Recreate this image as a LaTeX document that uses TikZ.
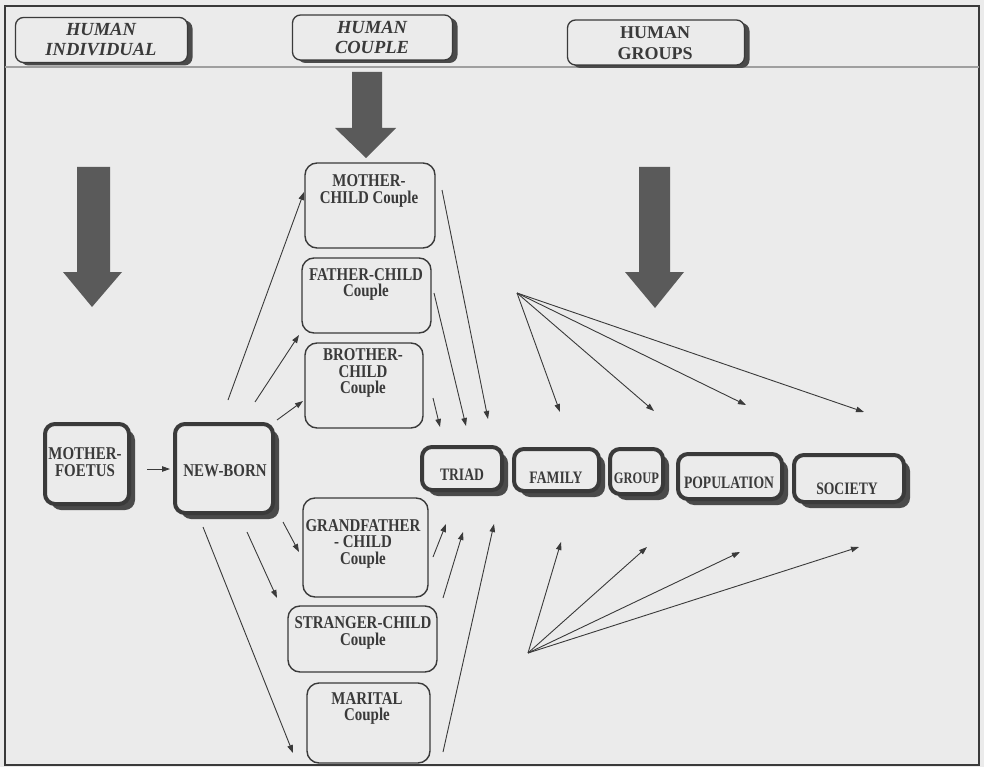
\documentclass[tikz,border=0pt]{standalone}
\usepackage{fontspec}
\setmainfont{Liberation Serif}
\newfontfamily\condA[FakeStretch=0.83]{Liberation Serif}
\newfontfamily\condB[FakeStretch=0.78]{Liberation Serif}
\usetikzlibrary{arrows.meta,shadows}
\definecolor{paper}{HTML}{EBEBEB}
\definecolor{ink}{HTML}{3A3A3A}
\definecolor{shade}{HTML}{4A4A4A}
\definecolor{bigarr}{HTML}{5A5A5A}
\begin{document}
\begin{tikzpicture}[x=1pt,y=-1pt,
  thickbox/.style={draw=ink, line width=4pt, fill=paper, rounded corners=10pt, inner sep=0pt,
    drop shadow={shadow xshift=6pt, shadow yshift=-6pt, fill=shade, opacity=1}},
  headbox/.style={draw=ink, line width=1.3pt, fill=paper, rounded corners=8pt, inner sep=0pt,
    drop shadow={shadow xshift=5pt, shadow yshift=-3pt, fill=shade, opacity=1}},
  cbox/.style={draw=ink, line width=1.4pt, rounded corners=12pt, inner sep=0pt},
  btxt/.style={text=ink, font=\condA\fontsize{18}{16.5}\selectfont\bfseries, align=center, inner sep=0pt},
  gtxt/.style={text=ink, font=\condB\fontsize{17.5}{16}\selectfont\bfseries, align=center, inner sep=0pt},
  htxt/.style={text=ink, font=\fontsize{18.5}{20}\selectfont\bfseries\itshape, align=center, inner sep=0pt},
  conn/.style={draw=ink, line width=0.9pt, -{Triangle[length=8pt,width=5.5pt]}},
  bigarrow/.style={fill=bigarr, draw=none}
]
\fill[paper] (0,0) rectangle (984,767);
\useasboundingbox (0,0) rectangle (984,767);
\draw[ink, line width=2pt] (5,6) rectangle (979,765);
\draw[gray!75, line width=1.5pt] (5,67) -- (979,67);

% header boxes
\node[headbox, minimum width=172pt, minimum height=45pt] (hi) at (101.5,40) {};
\node[htxt] (hit) at (101,40) {HUMAN\\INDIVIDUAL};
\node[headbox, minimum width=160pt, minimum height=45pt] (hc) at (372.5,37.5) {};
\node[htxt] (hct) at (372,37) {HUMAN\\COUPLE};
\node[headbox, minimum width=177pt, minimum height=45pt] (hg) at (656,42.5) {};
\node[text=ink, font=\fontsize{18}{21}\selectfont\bfseries, align=center, inner sep=0pt] (hgt) at (655,43) {HUMAN\\GROUPS};

% big arrows
\fill[bigarrow] (77,167) -- (110,167) -- (110,272) -- (122,272) -- (92,307) -- (63,272) -- (77,272) -- cycle;
\fill[bigarrow] (352,72) -- (382,72) -- (382,128) -- (396,128) -- (366,158) -- (335,128) -- (352,128) -- cycle;
\fill[bigarrow] (639,167) -- (670,167) -- (670,272) -- (684,272) -- (655,308) -- (625,272) -- (639,272) -- cycle;

% individual boxes
\node[thickbox, minimum width=84pt, minimum height=80pt] (mf) at (87,464) {};
\node[btxt] (mft) at (85,462) {MOTHER-\\FOETUS};
\node[thickbox, minimum width=98pt, minimum height=89pt] (nb) at (224,468.5) {};
\node[btxt] (nbt) at (225,471) {NEW-BORN};

% couple boxes
\node[cbox, minimum width=130pt, minimum height=85pt] (mc) at (370,205.5) {};
\node[btxt] (mct) at (369,191) {MOTHER-\\CHILD Couple};
\node[cbox, minimum width=129pt, minimum height=75pt] (fc) at (366.5,295.5) {};
\node[btxt] (fct) at (366,284.5) {FATHER-CHILD\\Couple};
\node[cbox, minimum width=118pt, minimum height=85pt] (bc) at (364,385.5) {};
\node[btxt] (bct) at (363,373) {BROTHER-\\CHILD\\Couple};
\node[cbox, minimum width=125pt, minimum height=99pt] (gc) at (365.5,547.5) {};
\node[btxt] (gct) at (363,543.5) {GRANDFATHER\\- CHILD\\Couple};
\node[cbox, minimum width=149pt, minimum height=66pt] (sc) at (362.5,639) {};
\node[btxt] (sct) at (363,633) {STRANGER-CHILD\\Couple};
\node[cbox, minimum width=123pt, minimum height=80pt] (mac) at (368.5,723) {};
\node[btxt] (mact) at (367,708.5) {MARITAL\\Couple};

% group boxes
\node[thickbox, minimum width=80pt, minimum height=43pt] (tr) at (462,468.5) {};
\node[gtxt] (trt) at (462,475) {TRIAD};
\node[thickbox, minimum width=85pt, minimum height=42pt] (fa) at (556.5,470) {};
\node[gtxt] (fat) at (556,478) {FAMILY};
\node[thickbox, minimum width=53pt, minimum height=45pt] (gr) at (636.5,471.5) {};
\node[gtxt, font=\condB\fontsize{16}{16}\selectfont\bfseries] (grt) at (636.5,478) {GROUP};
\node[thickbox, minimum width=104pt, minimum height=45pt] (po) at (730,476.5) {};
\node[gtxt] (pot) at (729,483) {POPULATION};
\node[thickbox, minimum width=110pt, minimum height=47pt] (so) at (849,478.5) {};
\node[gtxt] (sot) at (847,489) {SOCIETY};

% connector endpoints
\coordinate (mfo) at (147,469); \coordinate (nbi) at (170,469);
\coordinate (n1s) at (228,400); \coordinate (n1e) at (304,192);
\coordinate (n2s) at (255,402); \coordinate (n2e) at (299,335);
\coordinate (n3s) at (277,420); \coordinate (n3e) at (303,401);
\coordinate (n4s) at (283,522); \coordinate (n4e) at (299,552);
\coordinate (n5s) at (247,532); \coordinate (n5e) at (277,598);
\coordinate (n6s) at (203,527); \coordinate (n6e) at (293,753);
\coordinate (t1s) at (442,190); \coordinate (t1e) at (488,419);
\coordinate (t2s) at (434,293); \coordinate (t2e) at (466,426);
\coordinate (t3s) at (433,398); \coordinate (t3e) at (440,427);
\coordinate (u1s) at (433,557); \coordinate (u1e) at (446,524);
\coordinate (u2s) at (443,598); \coordinate (u2e) at (463,532);
\coordinate (u3s) at (443,752); \coordinate (u3e) at (494,524);
\coordinate (fo) at (517,293);
\coordinate (f1) at (560,412); \coordinate (f2) at (654,411);
\coordinate (f3) at (746,405); \coordinate (f4) at (864,412);
\coordinate (bo) at (528,653);
\coordinate (b1) at (561,542); \coordinate (b2) at (647,547);
\coordinate (b3) at (740,552); \coordinate (b4) at (859,547);

\draw[conn] (mfo) -- (nbi);
\foreach \s/\e in {n1s/n1e,n2s/n2e,n3s/n3e,n4s/n4e,n5s/n5e,n6s/n6e,
                   t1s/t1e,t2s/t2e,t3s/t3e,u1s/u1e,u2s/u2e,u3s/u3e,
                   fo/f1,fo/f2,fo/f3,fo/f4,bo/b1,bo/b2,bo/b3,bo/b4}
  \draw[conn] (\s) -- (\e);
\end{tikzpicture}
\end{document}
